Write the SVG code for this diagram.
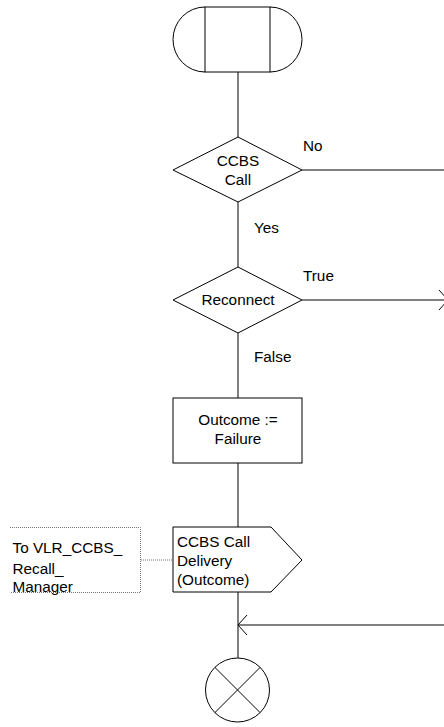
<svg xmlns="http://www.w3.org/2000/svg" width="444" height="727" viewBox="0 0 444 727">
<style>
.s{fill:none;stroke:#000;stroke-width:1}
.c{fill:none;stroke:#777;stroke-width:1;stroke-dasharray:1 1}
text{font-family:"Liberation Sans",Arial,sans-serif;font-size:15.3px;fill:#000}
.m{text-anchor:middle}
</style>
<defs>
<marker id="ah" markerWidth="12" markerHeight="24" refX="10" refY="11" orient="auto" markerUnits="userSpaceOnUse">
<path d="M1,1 L10,11 L1,21" fill="none" stroke="#000" stroke-width="1"/>
</marker>
</defs>
<g id="connectors">
<line class="s" x1="238" y1="72" x2="238" y2="137"/>
<line class="s" x1="238" y1="202" x2="238" y2="267"/>
<line class="s" x1="238" y1="333" x2="238" y2="398"/>
<line class="s" x1="238" y1="463" x2="238" y2="527"/>
<line class="s" x1="238" y1="592" x2="238" y2="658"/>
<line class="s" x1="302" y1="170" x2="444" y2="170"/>
<line class="s" x1="302" y1="300" x2="448" y2="300" marker-end="url(#ah)"/>
<line class="s" x1="444" y1="625" x2="238" y2="625" marker-end="url(#ah)"/>
<line class="c" x1="141" y1="560" x2="173" y2="560"/>
<text x="303" y="151">No</text>
<text x="254" y="233">Yes</text>
<text x="303" y="281">True</text>
<text x="254" y="362">False</text>
</g>
<g id="start">
<rect class="s" x="205" y="7" width="65" height="65"/>
<path class="s" d="M205,7 A32,32.5 0 0 0 205,72"/>
<path class="s" d="M270,7 A32,32.5 0 0 1 270,72"/>
</g>
<g id="ccbs_call">
<polygon class="s" points="238,137 302,170 238,202 173,170"/>
<text class="m" x="238" y="166">CCBS</text>
<text class="m" x="238" y="185">Call</text>
</g>
<g id="reconnect">
<polygon class="s" points="238,267 302,300 238,333 173,300"/>
<text class="m" x="238" y="305">Reconnect</text>
</g>
<g id="outcome">
<rect class="s" x="173" y="398" width="129" height="65"/>
<text class="m" x="238" y="425">Outcome :=</text>
<text class="m" x="238" y="444">Failure</text>
</g>
<g id="signal">
<polygon class="s" points="173,527 271,527 302,560 271,592 173,592"/>
<text x="177" y="547">CCBS Call</text>
<text x="177" y="566">Delivery</text>
<text x="177" y="585">(Outcome)</text>
</g>
<g id="comment">
<path class="c" d="M10,527.5 H140.5 V592.5 H10"/>
<text x="12.5" y="553">To VLR_CCBS_</text>
<text x="12.5" y="574">Recall_</text>
<text x="12.5" y="592">Manager</text>
</g>
<g id="stop">
<circle class="s" cx="237.5" cy="690" r="32"/>
<line class="s" x1="214.9" y1="667.4" x2="260.1" y2="712.6"/>
<line class="s" x1="260.1" y1="667.4" x2="214.9" y2="712.6"/>
</g>
</svg>
